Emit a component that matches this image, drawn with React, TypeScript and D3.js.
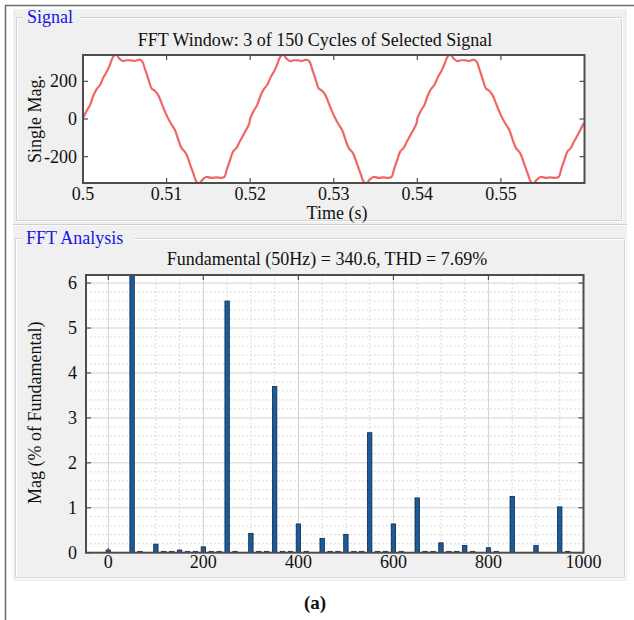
import React from "react";
import * as d3 from "d3";

const W = 634;
const H = 620;
const FONT = "'Liberation Serif', 'Times New Roman', serif";

// ---- Signal (time in ms after 0.5 s, value) ----
const signalCycle1: [number, number][] = [
  [0, 2], [0.45, 45], [0.85, 75], [1.25, 125], [1.65, 160], [2.05, 182], [2.45, 222], [2.85, 252],
  [3.25, 292], [3.6, 330], [3.95, 342], [4.35, 321], [4.75, 308], [5.2, 312], [5.8, 311], [6.2, 308],
  [6.8, 315], [7.1, 305], [7.4, 268], [7.8, 215], [8.2, 163], [8.6, 150], [9.0, 127], [9.4, 84],
  [9.9, 30], [10.4, -15], [11.0, -58], [11.4, -110], [11.8, -155], [12.3, -181], [12.75, -234],
  [13.25, -296], [13.55, -331], [13.9, -342], [14.3, -322], [14.75, -308], [15.35, -313], [15.95, -310],
  [16.55, -313], [16.95, -305], [17.2, -269], [17.6, -217], [17.95, -173], [18.35, -155], [18.75, -120],
  [19.3, -76], [19.9, -23],
];
const signalCycle2: [number, number][] = [
  [20, 2], [20.45, 45], [20.85, 75], [21.25, 125], [21.65, 160], [22.05, 182], [22.45, 222], [22.85, 252],
  [23.25, 292], [23.6, 330], [23.95, 342], [24.35, 321], [24.75, 308], [25.2, 312], [25.8, 311], [26.2, 308],
  [26.8, 315], [27.1, 305], [27.4, 268], [27.8, 215], [28.2, 163], [28.6, 150], [29.0, 127], [29.4, 84],
  [29.9, 30], [30.4, -15], [31.0, -58], [31.4, -110], [31.8, -155], [32.3, -181], [32.75, -234],
  [33.25, -296], [33.55, -331], [33.9, -342], [34.3, -322], [34.75, -308], [35.35, -313], [35.95, -310],
  [36.55, -313], [36.95, -305], [37.2, -269], [37.6, -217], [37.95, -173], [38.35, -155], [38.75, -120],
  [39.3, -76], [39.9, -23],
];
const signalCycle3: [number, number][] = [
  [40, 2], [40.45, 45], [40.85, 75], [41.25, 125], [41.65, 160], [42.05, 182], [42.45, 222], [42.85, 252],
  [43.25, 292], [43.6, 330], [43.95, 342], [44.35, 321], [44.75, 308], [45.2, 312], [45.8, 311], [46.2, 308],
  [46.8, 315], [47.1, 305], [47.4, 268], [47.8, 215], [48.2, 163], [48.6, 150], [49.0, 127], [49.4, 84],
  [49.9, 30], [50.4, -15], [51.0, -58], [51.4, -110], [51.8, -155], [52.3, -181], [52.75, -234],
  [53.25, -296], [53.55, -331], [53.9, -342], [54.3, -322], [54.75, -308], [55.35, -313], [55.95, -310],
  [56.55, -313], [56.95, -305], [57.2, -269], [57.6, -217], [57.95, -173], [58.35, -155], [58.75, -120],
  [59.3, -76], [59.9, -23],
];

const topXTicks = [0.5, 0.51, 0.52, 0.53, 0.54, 0.55];
const topXTickLabels = ["0.5", "0.51", "0.52", "0.53", "0.54", "0.55"];
const topYTicks = [-200, 0, 200];
const topYTickLabels = ["-200", "0", "200"];

// ---- FFT bins (resolution 50/3 Hz), magnitude in % of fundamental ----
const fftBinIndex = [
  0, 1, 2, 3, 4, 5, 6, 7, 8, 9, 10, 11, 12, 13, 14, 15, 16, 17, 18, 19, 20,
  21, 22, 23, 24, 25, 26, 27, 28, 29, 30, 31, 32, 33, 34, 35, 36, 37, 38, 39, 40,
  41, 42, 43, 44, 45, 46, 47, 48, 49, 50, 51, 52, 53, 54, 55, 56, 57, 58, 59, 60,
];
const fftMag = [
  0.06, 0.0, 0.0, 100, 0.03, 0.0, 0.19, 0.03, 0.03, 0.06, 0.03, 0.03, 0.13, 0.03, 0.03, 5.6, 0.03, 0.0, 0.43, 0.03, 0.03,
  3.7, 0.03, 0.03, 0.64, 0.03, 0.0, 0.32, 0.03, 0.03, 0.41, 0.03, 0.03, 2.67, 0.03, 0.03, 0.64, 0.03, 0.0, 1.22, 0.03,
  0.03, 0.22, 0.03, 0.03, 0.16, 0.03, 0.0, 0.11, 0.03, 0.0, 1.25, 0.0, 0.0, 0.16, 0.0, 0.0, 1.02, 0.03, 0.0, 0.0,
];
const binHz = 50 / 3;

const botXTicks = [0, 200, 400, 600, 800, 1000];
const botXTickLabels = ["0", "200", "400", "600", "800", "1000"];
const botYTicks = [0, 1, 2, 3, 4, 5, 6];
const botYTickLabels = ["0", "1", "2", "3", "4", "5", "6"];
const botXMinor = [50, 100, 150, 250, 300, 350, 450, 500, 550, 650, 700, 750, 850, 900, 950];
const botYMinor = [
  0.2, 0.4, 0.6, 0.8, 1.2, 1.4, 1.6, 1.8, 2.2, 2.4, 2.6, 2.8, 3.2, 3.4, 3.6, 3.8,
  4.2, 4.4, 4.6, 4.8, 5.2, 5.4, 5.6, 5.8,
];

export default function App() {
  // top plot
  const tL = 83, tR = 584.5, tT = 55, tB = 183;
  const tx = d3.scaleLinear().domain([0.5, 0.56]).range([tL, tR]);
  const ty = d3.scaleLinear().domain([-340, 340]).range([tB, tT]);
  const allSignal = [...signalCycle1, ...signalCycle2, ...signalCycle3];
  const line = d3
    .line<[number, number]>()
    .x((d) => tx(0.5 + d[0] / 1000))
    .y((d) => ty(d[1]))
    .curve(d3.curveCatmullRom.alpha(0.5));

  // bottom plot
  const bL = 86, bR = 583.5, bT = 275, bB = 552.7;
  const bx = d3.scaleLinear().domain([-47, 1000]).range([bL, bR]);
  const by = d3.scaleLinear().domain([0, 6.18]).range([bB, bT]);
  const barW = 4.4;

  const axisCol = "#4d4d4d";
  const tickLen = 5;

  return (
    <svg width={W} height={H} style={{ display: "block", position: "absolute", left: 0, top: 0, background: "#fff" }}>
      <defs>
        <clipPath id="topClip">
          <rect x={tL} y={tT} width={tR - tL} height={tB - tT} />
        </clipPath>
        <clipPath id="botClip">
          <rect x={bL} y={bT} width={bR - bL} height={bB - bT} />
        </clipPath>
      </defs>
      <rect x={0} y={0} width={W} height={H} fill="#fff" />
      {/* outer frame */}
      <line x1={5} y1={5.5} x2={W} y2={5.5} stroke="#6a6a6a" strokeWidth={1.5} />
      <line x1={5.5} y1={5} x2={5.5} y2={H} stroke="#6a6a6a" strokeWidth={1.5} />
      {/* panels */}
      <rect x={13} y={9} width={614} height={572} fill="#f0f0f0" />
      {/* Signal groupbox */}
      <g fill="none" strokeWidth={1}>
        <path d="M23,17.5 H16.5 V220.5 H621.5 V17.5 H80" stroke="#d4d4d4" />
        <path d="M23,18.5 H17.5 V219.5 M17.5,221.5 H622.5 V17.5 M622.5,18.5 H80" stroke="#ffffff" />
        <line x1={13} y1={224.5} x2={627} y2={224.5} stroke="#d0d0d0" />
        <line x1={13} y1={225.5} x2={627} y2={225.5} stroke="#fafafa" />
        <path d="M22,238.5 H15.5 V577.5 H624.5 V238.5 H134" stroke="#d4d4d4" />
        <path d="M22,239.5 H16.5 V576.5 M16.5,578.5 H625.5 V238.5 M625.5,239.5 H134" stroke="#ffffff" />
      </g>
      <text x={27} y={23} fontFamily={FONT} fontSize={18} fill="#1515e8">Signal</text>
      <text x={26} y={243.5} fontFamily={FONT} fontSize={18} fill="#1515e8">FFT Analysis</text>

      {/* ---------- top plot ---------- */}
      <text x={315} y={46} textAnchor="middle" fontFamily={FONT} fontSize={18} fill="#111">
        FFT Window: 3 of 150 Cycles of Selected Signal
      </text>
      <rect x={tL} y={tT} width={tR - tL} height={tB - tT} fill="#fff" />
      <path
        d={line(allSignal) || ""}
        fill="none"
        stroke="#f06666"
        strokeWidth={2.2}
        strokeLinejoin="round"
        clipPath="url(#topClip)"
      />
      <g stroke={axisCol} strokeWidth={1.2}>
        {topXTicks.map((t) => (
          <g key={"tx" + t}>
            <line x1={tx(t)} x2={tx(t)} y1={tB} y2={tB - tickLen} />
            <line x1={tx(t)} x2={tx(t)} y1={tT} y2={tT + tickLen} />
          </g>
        ))}
        {topYTicks.map((t) => (
          <g key={"ty" + t}>
            <line x1={tL} x2={tL + tickLen} y1={ty(t)} y2={ty(t)} />
            <line x1={tR} x2={tR - tickLen} y1={ty(t)} y2={ty(t)} />
          </g>
        ))}
      </g>
      <rect x={tL} y={tT} width={tR - tL} height={tB - tT} fill="none" stroke={axisCol} strokeWidth={2} />
      <g fontFamily={FONT} fontSize={18} fill="#111">
        {topXTicks.map((t, i) => (
          <text key={"txl" + t} x={tx(t)} y={199.5} textAnchor="middle">
            {topXTickLabels[i]}
          </text>
        ))}
        {topYTicks.map((t, i) => (
          <text key={"tyl" + t} x={77} y={ty(t) + 6} textAnchor="end">
            {topYTickLabels[i]}
          </text>
        ))}
        <text x={337} y={219} textAnchor="middle">Time (s)</text>
        <text transform={`translate(41,${(tT + tB) / 2}) rotate(-90)`} textAnchor="middle">
          Single Mag.
        </text>
      </g>

      {/* ---------- bottom plot ---------- */}
      <text x={327} y={265} textAnchor="middle" fontFamily={FONT} fontSize={18} fill="#111">
        Fundamental (50Hz) = 340.6, THD = 7.69%
      </text>
      <rect x={bL} y={bT} width={bR - bL} height={bB - bT} fill="#fff" />
      <g strokeWidth={1}>
        {botXMinor.map((v) => (
          <line key={"xm" + v} x1={bx(v)} x2={bx(v)} y1={bT} y2={bB} stroke="#cdcdcd" strokeDasharray="1.5 2.5" />
        ))}
        {botYMinor.map((v) => (
          <line key={"ym" + v} x1={bL} x2={bR} y1={by(v)} y2={by(v)} stroke="#cdcdcd" strokeDasharray="1.5 2.5" />
        ))}
        {botXTicks.map((v) => (
          <line key={"xg" + v} x1={bx(v)} x2={bx(v)} y1={bT} y2={bB} stroke="#d2d2d2" />
        ))}
        {botYTicks.slice(1).map((v) => (
          <line key={"yg" + v} x1={bL} x2={bR} y1={by(v)} y2={by(v)} stroke="#d2d2d2" />
        ))}
      </g>
      <g clipPath="url(#botClip)">
        {fftBinIndex.map((b, i) => {
          const f = b * binHz;
          const v = fftMag[i];
          if (v <= 0) return null;
          const y0 = by(v);
          return (
            <rect
              key={"bar" + b}
              x={bx(f) - barW / 2}
              y={y0}
              width={barW}
              height={Math.max(bB - y0, 0.5)}
              fill="#1b5b9b"
              stroke="#0c2744"
              strokeWidth={0.8}
            />
          );
        })}
      </g>
      <g stroke={axisCol} strokeWidth={1.2}>
        {botXTicks.map((t) => (
          <g key={"bxt" + t}>
            <line x1={bx(t)} x2={bx(t)} y1={bB} y2={bB - tickLen} />
            <line x1={bx(t)} x2={bx(t)} y1={bT} y2={bT + tickLen} />
          </g>
        ))}
        {botYTicks.map((t) => (
          <g key={"byt" + t}>
            <line x1={bL} x2={bL + tickLen} y1={by(t)} y2={by(t)} />
            <line x1={bR} x2={bR - tickLen} y1={by(t)} y2={by(t)} />
          </g>
        ))}
      </g>
      <rect x={bL} y={bT} width={bR - bL} height={bB - bT} fill="none" stroke={axisCol} strokeWidth={2} />
      <g fontFamily={FONT} fontSize={18} fill="#111">
        {botXTicks.map((t, i) => (
          <text key={"bxl" + t} x={bx(t)} y={568} textAnchor="middle">
            {botXTickLabels[i]}
          </text>
        ))}
        {botYTicks.map((t, i) => (
          <text key={"byl" + t} x={77} y={by(t) + 6} textAnchor="end">
            {botYTickLabels[i]}
          </text>
        ))}
        <text transform={`translate(41,${(bT + bB) / 2 - 1}) rotate(-90)`} textAnchor="middle">
          Mag (% of Fundamental)
        </text>
      </g>
      <text x={315} y={609} textAnchor="middle" fontFamily={FONT} fontSize={19} fontWeight="bold" fill="#111">
        (a)
      </text>
    </svg>
  );
}
